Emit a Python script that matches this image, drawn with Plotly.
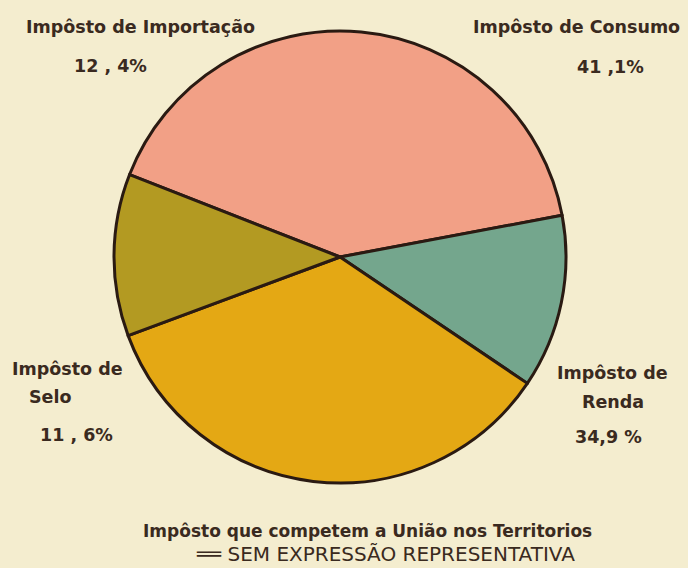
import plotly.graph_objects as go

labels = ["Impôsto de Consumo", "Impôsto de Importação", "Impôsto de Renda", "Impôsto de Selo"]
values = [41.1, 12.4, 34.9, 11.6]
colors = ["#F2A086", "#74A68D", "#E4A814", "#B39A22"]

label_texts = [
    ("Impôsto de Consumo", 576, 27), ("41 ,1%", 610, 67),
    ("Impôsto de Importação", 140, 27), ("12 , 4%", 110, 66),
    ("Impôsto de", 612, 373), ("Renda", 613, 402), ("34,9 %", 608, 437),
    ("Impôsto de", 67, 369), ("Selo", 50, 397), ("11 , 6%", 76, 435),
]
footnote_1 = "Impôsto que competem a União nos Territorios"
footnote_2 = "══ SEM EXPRESSÃO REPRESENTATIVA"

W, H = 688, 568
cx, cy, r = 340, 257, 226

fig = go.Figure(go.Pie(
    labels=labels, values=values, sort=False, direction="clockwise",
    rotation=-68.6, textinfo="none", hoverinfo="label+percent",
    marker=dict(colors=colors, line=dict(color="#2A1A12", width=3)),
    domain=dict(x=[(cx - r) / W, (cx + r) / W], y=[(H - cy - r) / H, (H - cy + r) / H]),
    showlegend=False,
))

font = dict(family="DejaVu Sans", size=17.5, color="#3A2A20")
anns = []
for t, x, y in label_texts:
    anns.append(dict(text="<b>%s</b>" % t, x=x / W, y=1 - y / H, xref="paper", yref="paper",
                     showarrow=False, font=font, xanchor="center", yanchor="middle"))
anns.append(dict(text="<b>%s</b>" % footnote_1, x=368 / W, y=1 - 531 / H, xref="paper", yref="paper",
                 showarrow=False, font=dict(family="DejaVu Sans", size=17, color="#3A2A20"),
                 xanchor="center", yanchor="middle"))
anns.append(dict(text=footnote_2, x=385 / W, y=1 - 554 / H, xref="paper", yref="paper",
                 showarrow=False, font=dict(family="DejaVu Sans", size=20, color="#3A2A20"),
                 xanchor="center", yanchor="middle"))

fig.update_layout(
    width=W, height=H, margin=dict(l=0, r=0, t=0, b=0),
    paper_bgcolor="#F4EDCF", plot_bgcolor="#F4EDCF",
    annotations=anns,
)
fig.write_html("out.html", config={"displayModeBar": False},
               post_script="document.body.style.margin='0';document.body.style.background='#F4EDCF';")
